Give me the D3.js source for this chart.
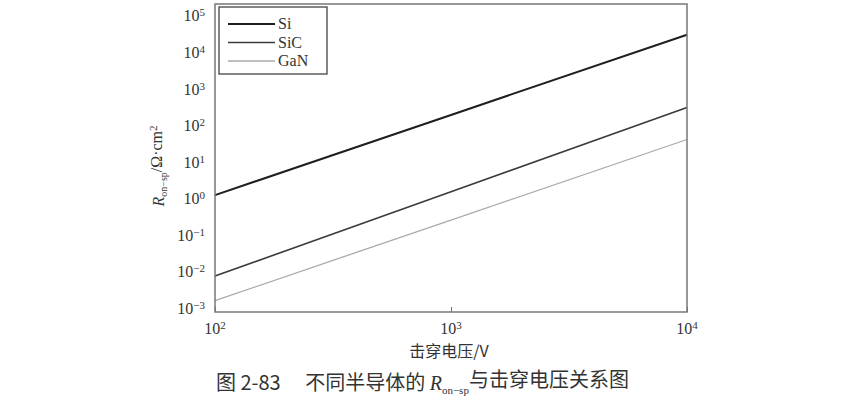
<!DOCTYPE html>
<html>
<head>
<meta charset="utf-8">
<script src="https://cdn.jsdelivr.net/npm/d3@7"></script>
<style>
  body { margin: 0; background: #fff; }
  text { font-family: "Liberation Serif", "Noto Sans CJK SC", serif; fill: #333; }
</style>
</head>
<body>
<div id="chart"></div>
<script>
// 数据
const voltages = [100, 1000, 10000];
const siValues = [1.57, 244, 38000];
const sicValues = [0.0096, 1.94, 392];
const ganValues = [0.00204, 0.327, 52];
const seriesNames = ["Si", "SiC", "GaN"];
const xTicks = [100, 1000, 10000];
const yTicks = [1e-3, 1e-2, 1e-1, 1, 10, 100, 1e3, 1e4, 1e5];

const W = 849, H = 409;
const margin = { top: 4, left: 215, right: 162, bottom: 97 };
const width = W - margin.left - margin.right;
const height = H - margin.top - margin.bottom;

const svg = d3.select("#chart").append("svg")
  .attr("width", W).attr("height", H);
const g = svg.append("g").attr("transform", `translate(${margin.left},${margin.top})`);

const x = d3.scaleLog().domain([100, 10000]).range([0, width]);
// 顶部框线略高于 10^5
const y = d3.scaleLog().domain([1e-3, Math.pow(10, 5.42)]).range([height, 0]);

const sup = n => String(n).replace("-", "\u2212");

// 坐标轴刻度
g.append("g")
  .attr("transform", `translate(0,${height})`)
  .call(d3.axisBottom(x).tickValues(xTicks).tickSize(-5).tickFormat(""))
  .call(a => a.select(".domain").remove())
  .selectAll("line").attr("stroke", "#777");

const xl = g.selectAll(".xl").data(xTicks).enter().append("text")
  .attr("x", d => x(d)).attr("y", height + 22)
  .attr("text-anchor", "middle").style("font-size", "16px");
xl.append("tspan").text("10");
xl.append("tspan").attr("dy", "-0.45em").style("font-size", "11px").text(d => sup(Math.round(Math.log10(d))));

const yl = g.selectAll(".yl").data(yTicks).enter().append("text")
  .attr("x", -10).attr("y", d => y(d) + 2)
  .attr("text-anchor", "end").style("font-size", "16px");
yl.append("tspan").text("10");
yl.append("tspan").attr("dy", "-0.45em").style("font-size", "11px").text(d => sup(Math.round(Math.log10(d))));

// 数据线
const line = d3.line().x((d, i) => x(voltages[i])).y(d => y(d));
const styles = [
  { data: siValues, color: "#1e1e1e", w: 2 },
  { data: sicValues, color: "#3a3a3a", w: 1.6 },
  { data: ganValues, color: "#aaaaaa", w: 1.3 }
];
styles.forEach(s => {
  g.append("path").datum(s.data)
    .attr("fill", "none").attr("stroke", s.color)
    .attr("stroke-width", s.w).attr("d", line);
});

// 边框
g.append("rect").attr("x", 0).attr("y", 0)
  .attr("width", width).attr("height", height)
  .attr("fill", "none").attr("stroke", "#777").attr("stroke-width", 1.5);

// 图例
const lg = g.append("g").attr("transform", "translate(4,3)");
lg.append("rect").attr("width", 108).attr("height", 67)
  .attr("fill", "#fff").attr("stroke", "#444").attr("stroke-width", 1.3);
seriesNames.forEach((name, i) => {
  const yy = 17 + i * 18.5;
  lg.append("line").attr("x1", 9).attr("x2", 56).attr("y1", yy).attr("y2", yy)
    .attr("stroke", styles[i].color).attr("stroke-width", styles[i].w);
  lg.append("text").attr("x", 59).attr("y", yy + 5)
    .style("font-size", "16px").text(name);
});

// 纵轴标题
const yt = svg.append("text")
  .attr("transform", `translate(164,${margin.top + height / 2 + 8}) rotate(-90)`)
  .attr("text-anchor", "middle").style("font-size", "16px");
yt.append("tspan").style("font-style", "italic").text("R");
yt.append("tspan").attr("dy", "0.3em").style("font-size", "10px").text("on\u2212sp");
yt.append("tspan").attr("dy", "-0.3em").text("/Ω·cm");
yt.append("tspan").attr("dy", "-0.45em").style("font-size", "11px").text("2");

// 横轴标题
svg.append("text")
  .attr("x", 449).attr("y", 357)
  .attr("text-anchor", "middle")
  .style("font-size", "16px")
  .style("font-family", "'Noto Sans CJK SC', 'Liberation Serif', serif")
  .text("击穿电压/V");

// 图注
const cap = svg.append("text")
  .attr("x", 216).attr("y", 390)
  .style("font-size", "20px")
  .style("font-family", "'Noto Sans CJK SC', 'Liberation Serif', serif");
cap.append("tspan").text("图 2-83\u2003 不同半导体的 ");
cap.append("tspan").style("font-style", "italic").style("font-family", "'Liberation Serif', serif").text("R");
cap.append("tspan").attr("dy", "0.35em").style("font-size", "11px").style("font-family", "'Liberation Serif', serif").text("on\u2212sp");
cap.append("tspan").attr("dy", "-0.35em").text("与击穿电压关系图");
</script>
</body>
</html>
